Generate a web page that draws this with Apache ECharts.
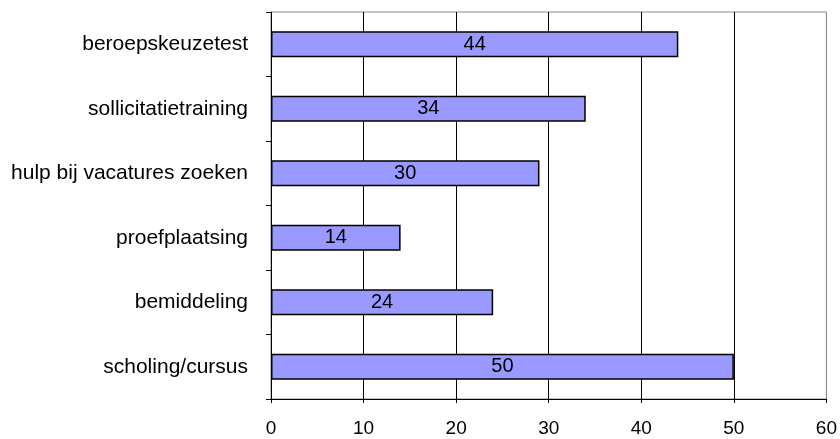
<!DOCTYPE html>
<html>
<head>
<meta charset="utf-8">
<script src="https://cdn.jsdelivr.net/npm/echarts@6/dist/echarts.min.js"></script>
<style>html,body{margin:0;padding:0;background:#fff}#c{width:840px;height:439px}</style>
</head>
<body>
<div id="c"></div>
<script>
const categories = ['beroepskeuzetest','sollicitatietraining','hulp bij vacatures zoeken','proefplaatsing','bemiddeling','scholing/cursus'];
const values = [44, 34, 29, 14, 24, 50];
const labels = ['44', '34', '30', '14', '24', '50'];
const xTicks = [0, 10, 20, 30, 40, 50, 60];

const font = '"Liberation Sans", Arial, sans-serif';
const chart = echarts.init(document.getElementById('c'), null, {renderer: 'canvas'});
chart.setOption({
  animation: false,
  grid: {left: 271, right: 13, top: 12, bottom: 40, show: true, borderColor: '#888', borderWidth: 1},
  xAxis: {
    type: 'value', min: xTicks[0], max: xTicks[xTicks.length - 1], interval: 10,
    axisLine: {show: true, lineStyle: {color: '#000'}},
    axisTick: {show: true, length: 4, lineStyle: {color: '#000'}},
    axisLabel: {color: '#000', fontSize: 19, fontFamily: font, margin: 20},
    splitLine: {show: true, lineStyle: {color: ['#000','#000','#000','#000','#000','#000','#888'], width: 1}}
  },
  yAxis: {
    type: 'category', data: categories, inverse: true,
    axisLine: {show: true, lineStyle: {color: '#000'}},
    axisTick: {show: true, length: 5, lineStyle: {color: '#000'}},
    axisLabel: {color: '#000', fontSize: 21, fontFamily: font, margin: 23}
  },
  series: [{
    type: 'bar', data: values, barWidth: 26,
    itemStyle: {color: '#9999FF', borderColor: '#000', borderWidth: 1.5},
    label: {show: true, position: 'inside', color: '#000', fontSize: 20, fontFamily: font,
      formatter: p => labels[p.dataIndex]}
  }]
});
</script>
</body>
</html>
